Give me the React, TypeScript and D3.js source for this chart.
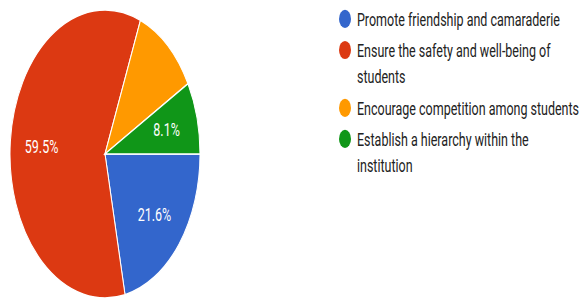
import React from "react";
import { arc, pie, PieArcDatum } from "d3";

// answers and counts (37 responses)
const categories = [
  "Promote friendship and camaraderie",
  "Ensure the safety and well-being of students",
  "Encourage competition among students",
  "Establish a hierarchy within the institution"
];
const counts = [8, 22, 4, 3];
const colors = ["#3366cc", "#dc3912", "#ff9900", "#109618"];
// the reference only labels these slices
const labelled = [true, true, false, true];
// legend text broken the way the reference wraps it
const legendLines = [
  ["Promote friendship and camaraderie"],
  ["Ensure the safety and well-being of", "students"],
  ["Encourage competition among students"],
  ["Establish a hierarchy within the", "institution"]
];

// the picture is squashed horizontally / stretched vertically, so draw in
// a shorter viewBox and let the svg stretch it
const W = 584;
const VH = 198;

const App = () => {
  const cx = 105;
  const cy = 101.6;
  const r = 95;

  const total = counts.reduce((a, b) => a + b, 0);

  const slices = pie<number>()
    .sort(null)
    .startAngle(Math.PI / 2)
    .endAngle(Math.PI / 2 + Math.PI * 2)(counts);

  const slicePath = arc<PieArcDatum<number>>().innerRadius(0).outerRadius(r);
  const labelArc = arc<PieArcDatum<number>>()
    .innerRadius(r * 0.67)
    .outerRadius(r * 0.67);

  let legendY = 12.5;
  const legendItems = legendLines.map((lines, i) => {
    const y = legendY;
    legendY += lines.length === 1 ? 20.5 : 17.2 + 21;
    return { lines, y, i };
  });

  return (
    <svg
      width={W}
      height={300}
      viewBox={`0 0 ${W} ${VH}`}
      preserveAspectRatio="none"
      style={{ position: "absolute", left: 0, top: 0, background: "#fff" }}
    >
      <g transform={`translate(${cx},${cy})`}>
        {slices.map((s, i) => (
          <path
            key={categories[i]}
            d={slicePath(s) || ""}
            fill={colors[i]}
            stroke="#fff"
            strokeWidth={1}
          />
        ))}
        {slices.map((s, i) => {
          if (!labelled[i]) return null;
          const [lx, ly] = labelArc.centroid(s);
          return (
            <text
              key={"l" + i}
              x={lx}
              y={ly}
              dy="0.36em"
              textAnchor="middle"
              fill="#fff"
              fontFamily="Roboto, Arial, sans-serif"
              fontSize={12.5}
            >
              {((s.data / total) * 100).toFixed(1)}%
            </text>
          );
        })}
      </g>
      <g fontFamily="Roboto, Arial, sans-serif" fontSize={12.5} fill="#222">
        {legendItems.map(({ lines, y, i }) => (
          <g key={categories[i]}>
            <circle cx={345} cy={y} r={6} fill={colors[i]} />
            {lines.map((t, j) => (
              <text key={j} x={357} y={y + j * 17.2} dy="0.36em">
                {t}
              </text>
            ))}
          </g>
        ))}
      </g>
    </svg>
  );
};

export default App;
